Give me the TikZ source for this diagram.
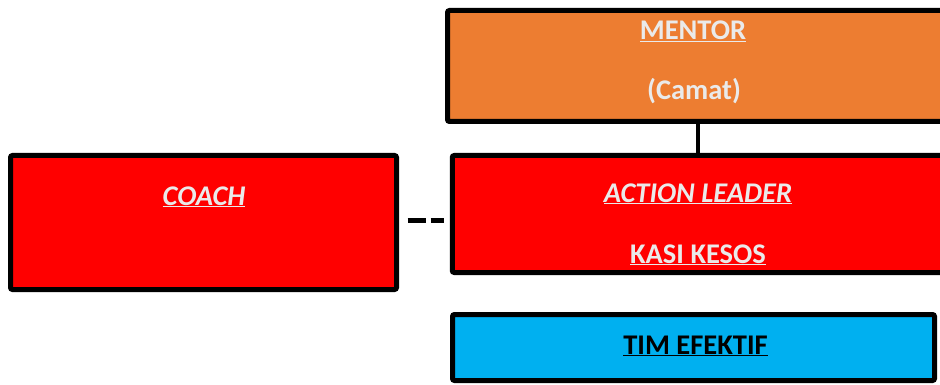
\documentclass[tikz,border=0pt]{standalone}
\usepackage{fontspec}
\setmainfont{Carlito}
\definecolor{mentorOrange}{HTML}{ED7D31}
\definecolor{leadRed}{HTML}{FF0000}
\definecolor{timBlue}{HTML}{00B0F0}
\definecolor{txtGray}{HTML}{EAEAEA}
\begin{document}
\begin{tikzpicture}[x=1pt,y=-1pt,
  box/.style={draw=black, line width=5pt, rounded corners=2pt, inner sep=0pt, anchor=center},
  lbl/.style={font=\bfseries\fontsize{28.5}{32}\selectfont, text=txtGray, inner sep=0pt, anchor=base},
  dark/.style={lbl, text=black},
  link/.style={draw=black, line width=4.5pt}]
\useasboundingbox (0,0) rectangle (940,385);
\clip (0,0) rectangle (940,385);
\node[box, fill=mentorOrange, minimum width=500pt, minimum height=111pt] (mentor) at (697.5,66) {};
\node[box, fill=leadRed, minimum width=495pt, minimum height=117pt] (action) at (699.75,214) {};
\node[box, fill=leadRed, minimum width=386pt, minimum height=134pt] (coach) at (203.5,222.5) {};
\node[box, fill=timBlue, minimum width=482pt, minimum height=66pt] (tim) at (693.5,347.5) {};
\node[lbl] (mentorT) at (693,40) {\underline{MENTOR}};
\node[lbl] (camatT) at (694,100) {(Camat)};
\node[lbl] (coachT) at (204,205) {\underline{\itshape COACH}};
\node[lbl] (actionT) at (698,202) {\underline{\itshape ACTION LEADER}};
\node[lbl] (kasiT) at (698,263) {\underline{KASI KESOS}};
\node[dark] (timT) at (695.5,354) {\underline{TIM EFEKTIF}};
\draw[link, line width=4pt] (mentor.south) -- (mentor.south |- action.north);
\draw[link, line width=5pt, dash pattern=on 18pt off 5pt, shorten <=8.5pt, shorten >=5.5pt]
  ([yshift=2.5pt]coach.east) -- ([yshift=2.5pt]coach.east -| action.west);
\end{tikzpicture}
\end{document}
